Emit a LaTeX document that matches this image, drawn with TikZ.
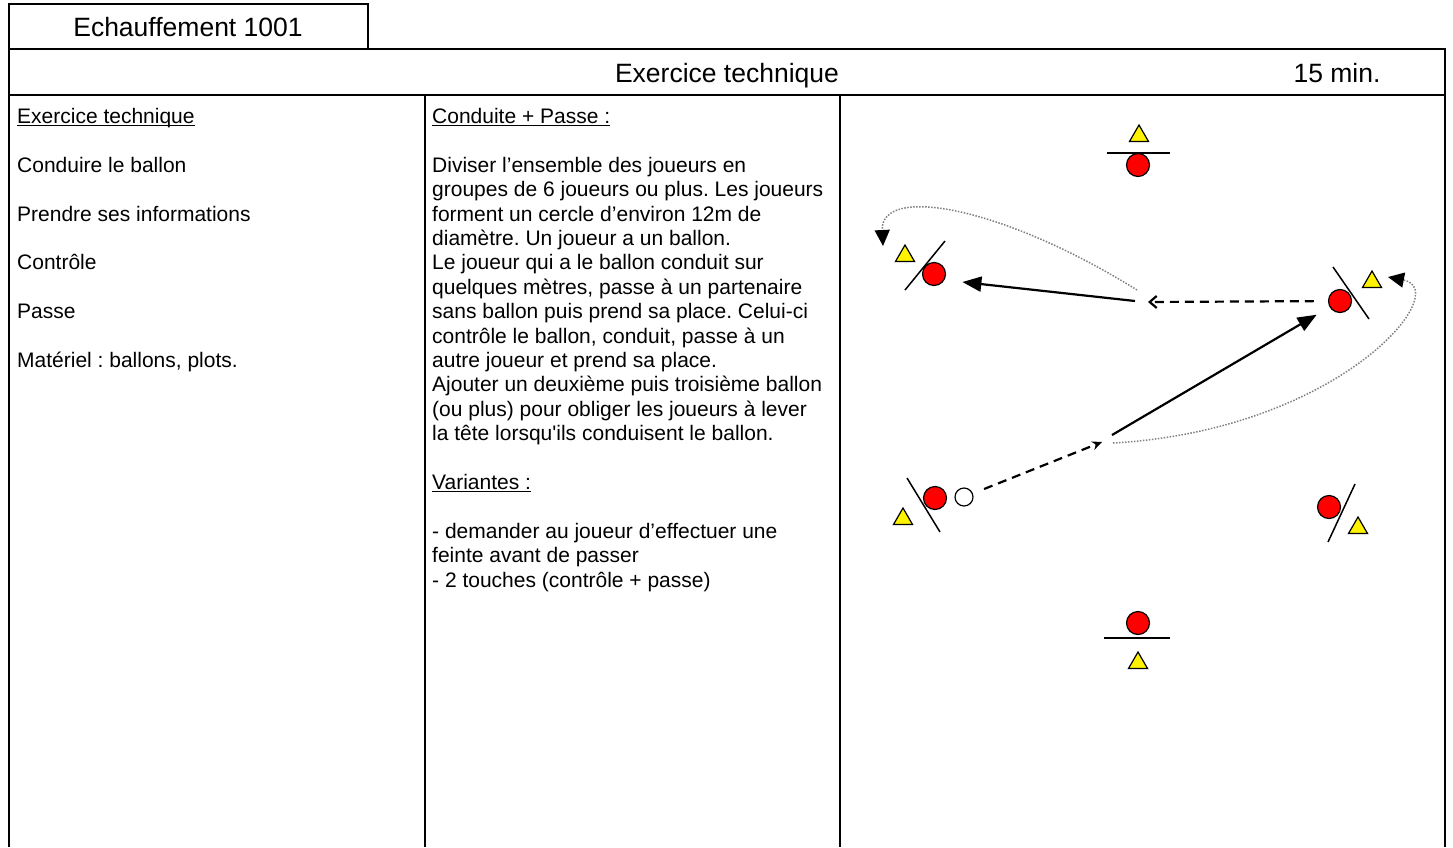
\documentclass[tikz,border=0pt]{standalone}
\usepackage{fontspec}
\setmainfont{Liberation Sans}
\usetikzlibrary{arrows.meta,shapes.geometric}
\newcommand\undl[1]{\setbox0\hbox{#1}\rlap{\rule[-2.5pt]{\wd0}{1.4pt}}\box0}
\frenchspacing

\begin{document}
\begin{tikzpicture}
  [
    x=1pt, y=-1pt,
    frame/.style={line width=2.5pt},
    txt/.style={font=\fontsize{21}{24.4}\selectfont, inner sep=0pt, anchor=base west},
    head/.style={font=\fontsize{26.5}{30}\selectfont, inner sep=0pt, anchor=base},
    player/.style={circle, draw=black, line width=1.2pt, fill=red, minimum size=23pt, inner sep=0pt},
    cone/.style={regular polygon, regular polygon sides=3, draw=black, line width=1.2pt, fill=yellow, minimum size=22pt, inner sep=0pt},
    ballnode/.style={circle, draw=black, line width=1.2pt, fill=white, minimum size=18pt, inner sep=0pt},
    sep/.style={line width=1.5pt},
    pass/.style={line width=2.2pt, -{Triangle[length=19pt,width=15pt]}},
    dribble/.style={line width=2.2pt, dash pattern=on 9pt off 6pt},
    move/.style={gray, line width=1.5pt, dash pattern=on 1.5pt off 1.5pt, -{Triangle[length=16pt,width=15pt,black]}},
  ]
  \useasboundingbox (0,0) rectangle (1453,847);

  % cadre
  \draw[frame] (9,4) rectangle (368,49);
  \draw[frame] (9,49) rectangle (1445,95);
  \foreach \x in {9,425,840,1445}
    \draw[frame] (\x,95) -- (\x,847);
  \node[head] (tab) at (188,36.5) {Echauffement 1001};
  \node[head] (title) at (727,82.5) {Exercice technique};
  \node[head] (time) at (1337,82.5) {15 min.};

  % colonne gauche
  \foreach \n/\rowtext in {0/{\undl{Exercice technique}}, 2/{Conduire le ballon}, 4/{Prendre ses informations}, 6/{Contrôle}, 8/{Passe}, 10/{Matériel : ballons, plots.}}
    \node[txt] (l\n) at (17,{123.5+24.4*\n}) {\rowtext};

  % colonne du milieu
  \foreach \n/\rowtext in {0/{\undl{Conduite + Passe :}},
      2/{Diviser l’ensemble des joueurs en},
      3/{groupes de 6 joueurs ou plus. Les joueurs},
      4/{forment un cercle d’environ 12m de},
      5/{diamètre. Un joueur a un ballon.},
      6/{Le joueur qui a le ballon conduit sur},
      7/{quelques mètres, passe à un partenaire},
      8/{sans ballon puis prend sa place. Celui-ci},
      9/{contrôle le ballon, conduit, passe à un},
      10/{autre joueur et prend sa place.},
      11/{Ajouter un deuxième puis troisième ballon},
      12/{(ou plus) pour obliger les joueurs à lever},
      13/{la tête lorsqu\textquotesingle ils conduisent le ballon.},
      15/{\undl{Variantes :}},
      17/{- demander au joueur d’effectuer une},
      18/{feinte avant de passer},
      19/{- 2 touches (contrôle + passe)}}
    \node[txt] (m\n) at (432,{123.5+24.4*\n}) {\rowtext};

  % joueurs et plots
  \node[player] (p1) at (1138,165) {};
  \node[player] (p2) at (934,274) {};
  \node[player] (p3) at (1340,301) {};
  \node[player] (p4) at (935,498) {};
  \node[player] (p5) at (1329,507) {};
  \node[player] (p6) at (1138,623) {};
  \node[ballnode] (b) at (964,497) {};

  \node[cone] (c1) at (1139,136) {};
  \node[cone] (c2) at (905,256) {};
  \node[cone] (c3) at (1372,282) {};
  \node[cone] (c4) at (903,519) {};
  \node[cone] (c5) at (1358,528) {};
  \node[cone] (c6) at (1138,663) {};

  \draw[sep] (1107,153) -- (1170,153);
  \draw[sep] (945,241) -- (905,290);
  \draw[sep] (1333,267) -- (1369,319);
  \draw[sep] (907,478) -- (940,532);
  \draw[sep] (1355,484) -- (1328,542);
  \draw[sep] (1104,638) -- (1170,638);

  % deplacements
  \coordinate (k1) at (1102,442);
  \coordinate (k2) at (1112,435);
  \coordinate (k3) at (1148,302);
  \coordinate (k4) at (1135,301);
  \coordinate (m1) at (1137,290);
  \coordinate (m2) at (883,246);
  \coordinate (m3) at (1113,443);
  \coordinate (m4) at (1388,277);

  \draw[dribble, -{Stealth[length=10pt,width=9pt]}, shorten <=12pt] (b) -- (k1);
  \draw[pass, shorten >=15pt] (k2) -- (p3);
  \draw[dribble, -{Straight Barb[length=7pt,width=12pt]}, shorten <=14pt] (p3) -- (k3);
  \draw[pass, shorten >=18pt] (k4) -- (p2.-30);
  \draw[move] (m1) .. controls (1000,205) and (880,185) .. (m2);
  \draw[move] (m3) .. controls (1340,430) and (1455,290) .. (m4);
\end{tikzpicture}
\end{document}
